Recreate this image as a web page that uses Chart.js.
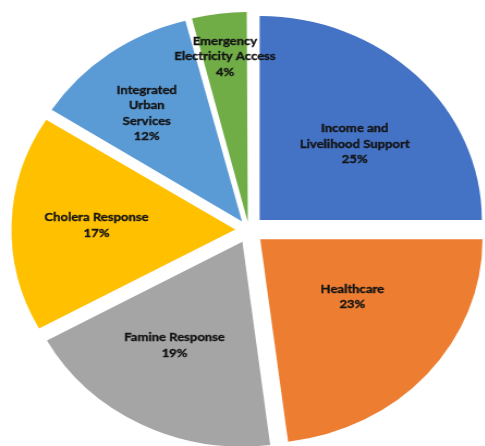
<!DOCTYPE html>
<html>
<head>
<meta charset="utf-8">
<script src="https://cdn.jsdelivr.net/npm/chart.js@4/dist/chart.umd.min.js"></script>
<style>
    html, body { margin: 0; padding: 0; background: #fff; overflow: hidden; width: 485px; height: 446px; }
    #pieChart { display: block; }
</style>
</head>
<body>
<!-- drawn at 460x460, stretched a little sideways like the original -->
<canvas id="pieChart" width="460" height="460" style="width: 501px; height: 460px;"></canvas>
<script>
/* ========================================
   Funding share pie
   ======================================== */

const categories = [
    ['Income and', 'Livelihood Support'],
    ['Healthcare'],
    ['Famine Response'],
    ['Cholera Response'],
    ['Integrated', 'Urban', 'Services'],
    ['Emergency', 'Electricity Access']
];
const shares = [25, 23, 19, 17, 12, 4];

const sliceColors = ['#4472C4', '#ED7D31', '#A5A5A5', '#FFC000', '#5B9BD5', '#70AD47'];
const EXPLODE = 14;      // px each slice is pulled out
// where each label sits: angle clockwise from 12 o'clock, and distance from centre
const labelAngle = [48.4, 125, 210.6, 272, 321.3, 352.8];
const labelDist = [130, 116, 134, 140, 150, 175];

// Chart.js shrinks the pull-out for wide slices, undo that so all move EXPLODE px
function sliceOffset(ctx) {
    const total = shares.reduce((a, b) => a + b, 0);
    const circ = 2 * Math.PI * shares[ctx.dataIndex] / total;
    const fix = 1 - Math.sin(Math.min(Math.PI, circ));
    return 4 * EXPLODE / (1 + fix);
}

const sliceLabels = {
    id: 'sliceLabels',
    afterDatasetsDraw(chart) {
        const c = chart.ctx;
        const meta = chart.getDatasetMeta(0);
        c.save();
        c.font = 'bold 12px Lato, "DejaVu Sans", sans-serif';
        c.fillStyle = '#141414';
        c.strokeStyle = '#141414';
        c.lineWidth = 0.35;
        c.textAlign = 'center';
        c.textBaseline = 'middle';
        meta.data.forEach((arc, i) => {
            const p = arc.getProps(['x', 'y']);
            const a = labelAngle[i] * Math.PI / 180;
            const cx = p.x + Math.sin(a) * labelDist[i];
            const cy = p.y - Math.cos(a) * labelDist[i];
            const lines = categories[i].concat([shares[i] + '%']);
            const lh = 15.5;
            lines.forEach((ln, k) => {
                const ty = cy + (k - (lines.length - 1) / 2) * lh;
                c.fillText(ln, cx, ty);
                c.strokeText(ln, cx, ty);
            });
        });
        c.restore();
    }
};

new Chart(document.getElementById('pieChart'), {
    type: 'pie',
    data: {
        labels: categories,
        datasets: [{
            data: shares,
            backgroundColor: sliceColors,
            borderWidth: 0,
            offset: sliceOffset
        }]
    },
    options: {
        responsive: false,
        animation: false,
        events: [],
        radius: 204,
        layout: { padding: { left: 0, right: 3, top: 0, bottom: 0 } },
        plugins: {
            legend: { display: false },
            tooltip: { enabled: false }
        }
    },
    plugins: [sliceLabels]
});
</script>
</body>
</html>
